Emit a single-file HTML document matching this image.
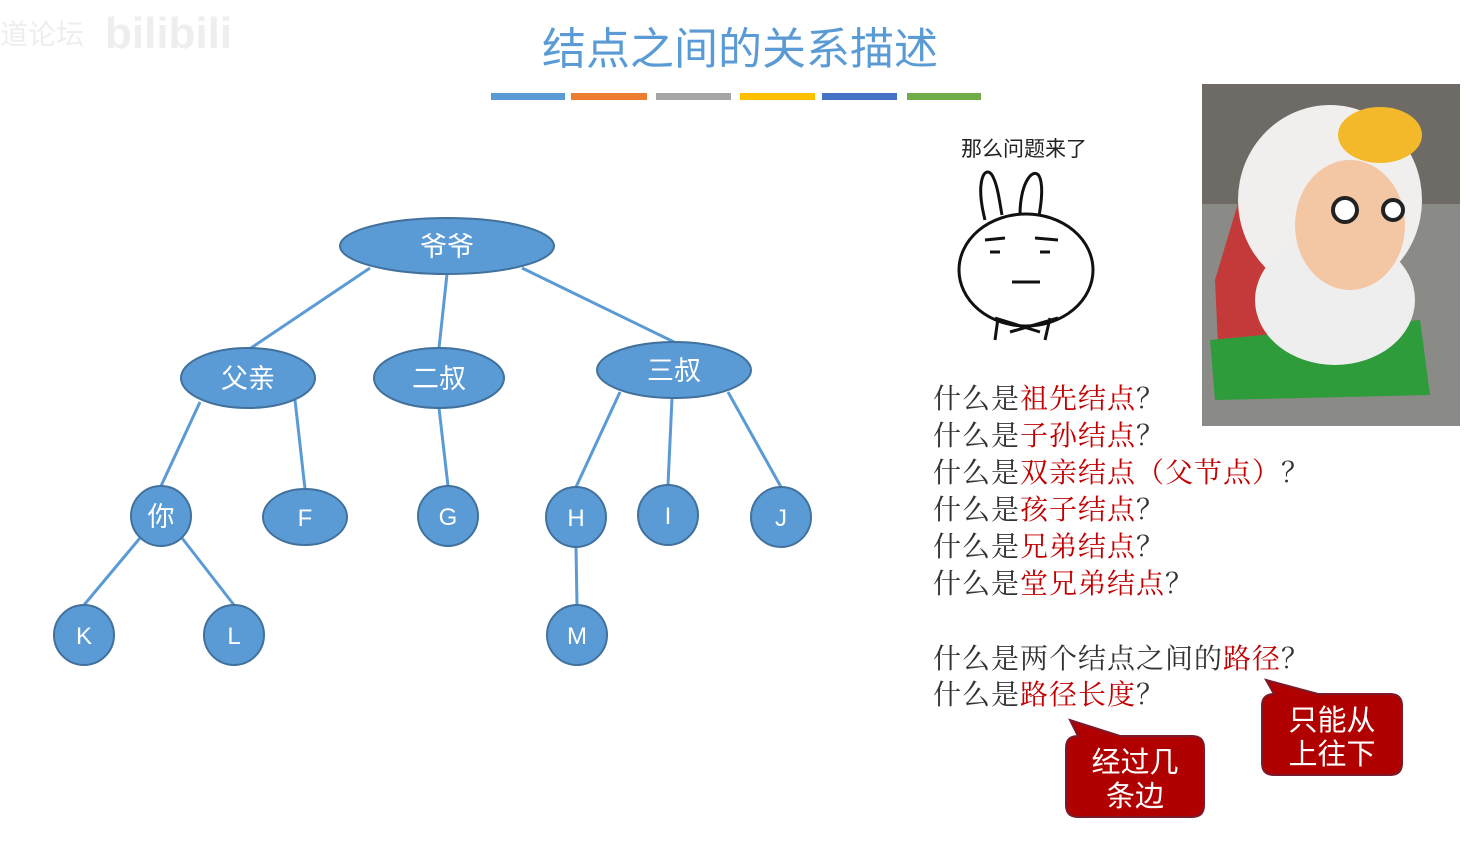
<!DOCTYPE html>
<html><head><meta charset="utf-8"><style>
body{margin:0;width:1468px;height:836px;background:#fff;overflow:hidden;font-family:"Liberation Sans","Noto Sans CJK SC",sans-serif}
</style></head><body>
<svg width="1468" height="836" viewBox="0 0 1468 836" xmlns="http://www.w3.org/2000/svg" font-family="'Liberation Sans','Noto Sans CJK SC',sans-serif">
<text x="0" y="44" font-size="28" fill="#eee">道论坛</text>
<text x="105" y="48" font-size="44" font-weight="bold" fill="#eee">bilibili</text>
<text x="740" y="64" font-size="44" fill="#5b9bd5" text-anchor="middle">结点之间的关系描述</text>
<rect x="491" y="93" width="74" height="7" fill="#5b9bd5"/>
<rect x="571" y="93" width="76" height="7" fill="#ed7d31"/>
<rect x="656" y="93" width="75" height="7" fill="#a5a5a5"/>
<rect x="740" y="93" width="75" height="7" fill="#ffc000"/>
<rect x="822" y="93" width="75" height="7" fill="#4472c4"/>
<rect x="907" y="93" width="74" height="7" fill="#70ad47"/>
<g stroke="#5b9bd5" stroke-width="3">
<line x1="370" y1="268" x2="248" y2="350"/><line x1="447" y1="274" x2="439" y2="348"/><line x1="522" y1="268" x2="674" y2="342"/>
<line x1="200" y1="402" x2="161" y2="486"/><line x1="295" y1="400" x2="305" y2="489"/>
<line x1="439" y1="408" x2="448" y2="486"/>
<line x1="620" y1="392" x2="576" y2="487"/><line x1="672" y1="398" x2="668" y2="485"/><line x1="728" y1="392" x2="781" y2="487"/>
<line x1="140" y1="538" x2="84" y2="605"/><line x1="182" y1="538" x2="234" y2="605"/><line x1="576" y1="547" x2="577" y2="605"/>
</g>
<g fill="#5b9bd5" stroke="#41719c" stroke-width="2">
<ellipse cx="447" cy="246" rx="107" ry="28"/>
<ellipse cx="248" cy="378" rx="67" ry="30"/>
<ellipse cx="439" cy="378" rx="65" ry="30"/>
<ellipse cx="674" cy="370" rx="77" ry="28"/>
<circle cx="161" cy="516" r="30"/>
<ellipse cx="305" cy="517" rx="42" ry="28"/>
<circle cx="448" cy="516" r="30"/>
<circle cx="576" cy="517" r="30"/>
<circle cx="668" cy="515" r="30"/>
<circle cx="781" cy="517" r="30"/>
<circle cx="84" cy="635" r="30"/>
<circle cx="234" cy="635" r="30"/>
<circle cx="577" cy="635" r="30"/>
</g>
<g fill="#fff" font-size="27" text-anchor="middle">
<text x="447" y="256">爷爷</text><text x="248" y="388">父亲</text><text x="439" y="388">二叔</text><text x="674" y="380">三叔</text>
<text x="161" y="526">你</text><text x="305" y="526" font-size="24">F</text><text x="448" y="525" font-size="24">G</text>
<text x="576" y="526" font-size="24">H</text><text x="668" y="524" font-size="24">I</text><text x="781" y="526" font-size="24">J</text>
<text x="84" y="644" font-size="24">K</text><text x="234" y="644" font-size="24">L</text><text x="577" y="644" font-size="24">M</text>
</g>
<text x="1024" y="156" font-size="21" text-anchor="middle" fill="#222">那么问题来了</text>
<g fill="#fff" stroke="#111" stroke-width="3">
<path d="M985 220 C975 180 985 165 992 175 C998 185 1000 205 1002 215"/>
<path d="M1020 215 C1020 180 1035 165 1040 178 C1044 190 1040 210 1038 222"/>
<ellipse cx="1026" cy="270" rx="67" ry="56"/>
<path d="M995 318 L1040 332 M1058 318 L1010 332 M995 340 L998 318 M1045 340 L1050 318"/>
</g>
<g stroke="#111" stroke-width="3" fill="none"><path d="M985 240 L1005 238 M1035 238 L1058 240 M990 252 L1000 252 M1040 252 L1050 252 M1012 282 L1040 282"/></g>
<rect x="1202" y="84" width="258" height="342" fill="#8a8a86"/>
<rect x="1202" y="84" width="258" height="120" fill="#6e6b66"/>
<path d="M1215 280 L1245 180 L1280 260 L1270 390 L1220 390 Z" fill="#c43a3a"/>
<path d="M1210 340 L1420 320 L1430 395 L1215 400 Z" fill="#2e9c3a"/>
<ellipse cx="1330" cy="200" rx="92" ry="95" fill="#f1efee"/>
<ellipse cx="1335" cy="300" rx="80" ry="65" fill="#eeeeee"/>
<ellipse cx="1350" cy="225" rx="55" ry="65" fill="#f3c6a4"/>
<ellipse cx="1380" cy="135" rx="42" ry="28" fill="#f3b92a"/>
<circle cx="1345" cy="210" r="12" fill="#fff" stroke="#222" stroke-width="4"/>
<circle cx="1393" cy="210" r="10" fill="#fff" stroke="#222" stroke-width="4"/>
<g font-size="28" fill="#333" font-family="'Liberation Serif','Noto Serif CJK SC',serif" letter-spacing="1">
<text x="933" y="408">什么是<tspan fill="#c00000">祖先结点</tspan>？</text>
<text x="933" y="445">什么是<tspan fill="#c00000">子孙结点</tspan>？</text>
<text x="933" y="482">什么是<tspan fill="#c00000">双亲结点（父节点）</tspan>？</text>
<text x="933" y="519">什么是<tspan fill="#c00000">孩子结点</tspan>？</text>
<text x="933" y="556">什么是<tspan fill="#c00000">兄弟结点</tspan>？</text>
<text x="933" y="593">什么是<tspan fill="#c00000">堂兄弟结点</tspan>？</text>
<text x="933" y="668">什么是两个结点之间的<tspan fill="#c00000">路径</tspan>？</text>
<text x="933" y="704">什么是<tspan fill="#c00000">路径长度</tspan>？</text>
</g>
<g fill="#b00000" stroke="#7a1a2a" stroke-width="2">
<path d="M1078 736 L1070 720 L1120 736 L1192 736 Q1204 736 1204 748 L1204 805 Q1204 817 1192 817 L1078 817 Q1066 817 1066 805 L1066 748 Q1066 736 1078 736 Z"/>
<path d="M1274 694 L1266 680 L1318 694 L1390 694 Q1402 694 1402 706 L1402 763 Q1402 775 1390 775 L1274 775 Q1262 775 1262 763 L1262 706 Q1262 694 1274 694 Z"/>
</g>
<g fill="#fff" font-size="29" text-anchor="middle">
<text x="1135" y="772">经过几</text><text x="1135" y="806">条边</text>
<text x="1332" y="730">只能从</text><text x="1332" y="764">上往下</text>
</g>
</svg>
</body></html>
